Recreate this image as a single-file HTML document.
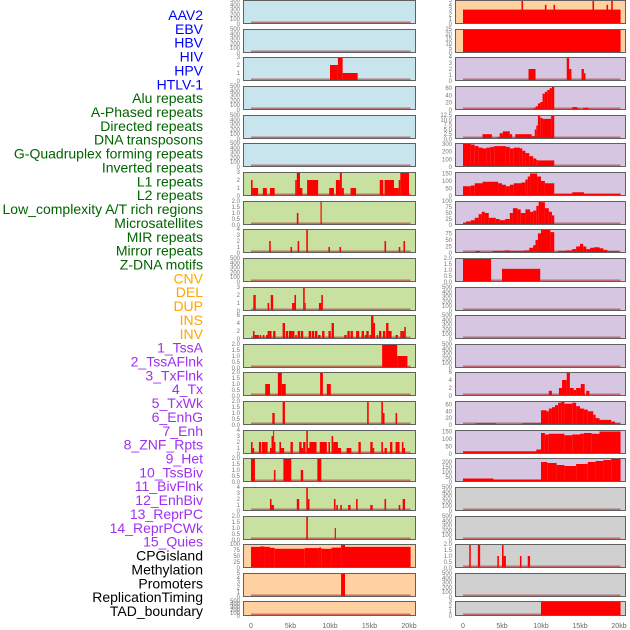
<!DOCTYPE html>
<html><head><meta charset="utf-8">
<style>
html,body{margin:0;padding:0;background:#fff;width:630px;height:630px;overflow:hidden}
svg{display:block}
</style></head>
<body>
<svg id="chart" width="630" height="630" xmlns="http://www.w3.org/2000/svg"></svg>
<script>
const trackLabels=["AAV2","EBV","HBV","HIV","HPV","HTLV-1","Alu repeats","A-Phased repeats","Directed repeats","DNA transposons","G-Quadruplex forming repeats","Inverted repeats","L1 repeats","L2 repeats","Low_complexity A/T rich regions","Microsatellites","MIR repeats","Mirror repeats","Z-DNA motifs","CNV","DEL","DUP","INS","INV","1_TssA","2_TssAFlnk","3_TxFlnk","4_Tx","5_TxWk","6_EnhG","7_Enh","8_ZNF_Rpts","9_Het","10_TssBiv","11_BivFlnk","12_EnhBiv","13_ReprPC","14_ReprPCWk","15_Quies","CPGisland","Methylation","Promoters","ReplicationTiming","TAD_boundary"];
const labelColors=[6,"#0000ff",13,"#006400",5,"#ffa500",15,"#a030f0",5,"#000000"];
const xTickValues=[0,5,10,15,20];
const xTickLabels=["0","5kb","10kb","15kb","20kb"];
const E=[];
// left column: [ymax, ticks, bg, segments [startKb,endKb,value]]
const leftBg=["#c8e4ec","#c8e4ec","#c8e4ec","#c8e4ec","#c8e4ec","#c8e4ec","#c8e0a0","#c8e0a0","#c8e0a0","#c8e0a0","#c8e0a0","#c8e0a0","#c8e0a0","#c8e0a0","#c8e0a0","#c8e0a0","#c8e0a0","#c8e0a0","#c8e0a0","#ffd0a0","#ffd0a0","#ffd0a0"];
const rightBg=["#ffd0a0","#ffd0a0","#d6c6e2","#d6c6e2","#d6c6e2","#d6c6e2","#d6c6e2","#d6c6e2","#d6c6e2","#d6c6e2","#d6c6e2","#d6c6e2","#d6c6e2","#d6c6e2","#d6c6e2","#d6c6e2","#d6c6e2","#d0d0d0","#d0d0d0","#d0d0d0","#d0d0d0","#d0d0d0"];
const T500=["0","100","200","300","400","500"], T2=["0.0","0.5","1.0","1.5","2.0"];
const leftMax=[500,500,3,500,500,500,3,2,4,500,3,6,2,2,2,4,2,4,2,100,5,500];
const leftTicks=[T500,T500,["0","1","2","3"],T500,T500,T500,["0","1","2","3"],T2,["0","1","2","3","4"],T500,["0","1","2","3"],["0","2","4","6"],T2,T2,T2,["0","1","2","3","4"],T2,["0","1","2","3","4"],T2,["0","25","50","75","100"],["0","1","2","3","4","5"],T500];
const leftData=[E,E,
[[10,11,2],[11,11.6,3],[11.6,13.5,1]],E,E,E,
[[0,0.2,2],[0.2,0.9,1],[1.5,2,1],[2.4,3,1],[5.6,5.8,2],[5.8,6.2,3],[6.2,6.5,1],[7.1,8.5,2],[9.9,10.5,1],[10.75,11.25,2],[11.25,11.5,3],[11.5,11.75,1],[12.6,13.3,1],[16.3,16.75,2],[16.9,18.1,2],[18.1,18.7,1],[18.7,18.9,2],[18.9,20,3]],
[[5.8,6,1],[8.8,8.95,2]],
[[2.3,2.5,2],[5,5.2,1],[5.9,6.1,2],[7,7.2,4],[9.8,10,1],[11.2,11.4,1],[16.9,17.1,2],[18.7,18.9,1],[19.3,19.5,2]],
E,
[[0.3,0.6,2],[2.1,2.3,1],[2.5,2.8,2],[5.2,5.5,1],[5.5,5.7,2],[6.6,6.8,3],[6.8,6.9,1],[8.6,8.9,1],[8.9,9.1,2]],
[[0.25,0.45,2],[0.45,1,1],[1.1,1.3,1],[1.5,1.7,1],[1.9,2.1,1],[2.1,2.6,2],[2.8,3.1,2],[4,4.3,4],[4.4,4.7,2],[4.8,5.2,2],[5.2,5.5,2],[5.6,5.8,1],[5.9,6.2,2],[6.3,6.6,2],[7.3,7.6,2],[7.7,8,2],[8.1,8.4,2],[8.5,8.8,1],[9,9.3,2],[9.8,10.1,2],[10.2,10.5,4],[11.8,12.1,1],[12.2,12.5,2],[12.6,12.9,2],[13.3,13.7,2],[14,14.3,2],[14.4,14.6,1],[14.6,14.9,2],[15,15.2,1],[15.2,15.5,6],[15.5,15.7,4],[15.9,16.1,1],[16.2,16.5,2],[16.7,17,2],[17.1,17.4,4],[17.4,17.8,2],[18.3,18.6,1],[18.9,19.2,2],[19.2,19.4,2],[19.4,19.6,3]],
[[16.6,18.5,2],[18.5,19.5,1],[19.5,19.8,1]],
[[1.8,2.4,1],[3.4,3.9,2],[3.9,4.4,1],[8.75,9.1,2],[9.6,10.1,1]],
[[2.7,3,1],[4,4.3,2],[14.7,14.9,2],[16.5,16.7,2],[16.7,16.9,1],[18.3,18.5,1]],
[[0,0.2,2],[0.2,0.4,1],[1,1.3,2],[1.4,1.8,2],[1.8,2.1,2],[2.4,2.6,1],[2.6,2.8,3],[2.8,2.9,4],[2.9,3.1,2],[3.6,3.8,2],[3.8,4.2,1],[5,5.3,2],[6.1,6.4,2],[6.4,6.6,1],[6.6,6.9,2],[7,7.2,4],[7.2,7.4,1],[7.4,8.3,2],[8.7,9.6,2],[9.8,10,2],[10.2,10.4,3],[10.4,11,2],[11,11.4,1],[12.1,12.7,1],[13.6,13.9,2],[15.1,15.4,2],[15.4,15.6,1],[16.5,16.7,2],[16.9,17.2,1],[17.6,17.9,2],[18.3,18.6,2],[18.6,18.8,2],[19.1,19.3,2],[19.3,19.5,1]],
[[0,0.5,2],[2.9,3.1,1],[4.1,5.1,2],[6.3,6.6,1],[8.4,8.9,2]],
[[2.4,2.6,2],[2.6,2.9,1],[5.8,6.1,2],[7,7.2,4],[7.2,7.4,2],[10.5,10.7,2],[10.8,11,1],[11.3,11.5,1],[12.3,12.6,1],[13.3,13.5,2],[15.1,15.4,1],[16.9,17.1,2],[18.7,18.9,1],[19.2,19.5,2]],
[[7,7.2,2],[10.6,10.75,1]],
[[0,1.2,88],[1.2,1.7,90],[1.7,2.4,88],[2.4,3,84],[3,6.8,80],[6.8,8.6,83],[8.6,8.9,85],[8.9,10.2,80],[10.2,11.4,85],[11.4,11.9,100],[11.9,20.2,88]],
[[11.4,11.9,5]],E];
const rightMax=[5,25,4,66,12.5,310,160,100,92,2,500,500,500,6,70,160,240,500,500,2,500,3];
const rightTicks=[["0","1","2","3","4","5"],["0","5","10","15","20","25"],["0","1","2","3","4"],["0","20","40","60"],["0.0","2.5","5.0","7.5","10.0","12.5"],["0","100","200","300"],["0","50","100","150"],["0","25","50","75","100"],["0","25","50","75"],T2,T500,T500,T500,["0","2","4","6"],["0","20","40","60"],["0","50","100","150"],["0","50","100","150","200"],T500,T500,T2,T500,["0","1","2","3"]];
const rightData=[
[[0,20.2,3],[7.5,7.7,5],[10.5,10.7,4],[11.6,11.8,4],[16.6,16.8,5],[18.4,18.6,4],[19,19.2,5]],
[[0,20.2,25]],
[[8.4,9.3,2],[13.3,13.6,4],[13.6,13.9,2],[15.2,15.5,2],[15.5,15.7,1.3]],
[[9,9.3,5],[9.3,9.6,10],[9.6,9.9,18],[9.9,10.2,22],[10.2,10.5,45],[10.5,10.8,50],[10.8,11.1,55],[11.1,11.4,60],[11.4,11.7,65],[14,14.6,8],[14.6,14.8,6],[15.4,16.1,6]],
[[2.5,3.7,2.5],[4.4,4.7,1],[4.7,5.1,3],[5.1,6,4],[6,6.3,2.5],[6.7,8.8,2.5],[8.8,9.2,1.5],[9.2,9.4,5],[9.4,9.6,7],[9.6,9.9,12],[9.9,10.2,11],[10.2,11.3,10.5],[11.3,11.7,12.5]],
[[0,1,310],[1,1.5,290],[1.5,2,270],[2,2.5,250],[2.5,3,240],[3,3.5,250],[3.5,4,260],[4,5.5,270],[5.5,6,260],[6,6.5,240],[6.5,7.3,250],[7.3,7.6,240],[7.6,8,210],[8,8.5,180],[8.5,9,140],[9,9.4,110],[9.4,9.6,90],[9.6,11.7,85],[11.7,20.2,10]],
[[0,1,65],[1,1.5,70],[1.5,2.5,85],[2.5,4.5,95],[4.5,5,85],[5,5.5,75],[5.5,6,65],[6,6.5,75],[6.5,7.5,85],[7.5,8,90],[8,8.3,110],[8.3,8.6,130],[8.6,9.5,150],[9.5,10,130],[10,10.5,100],[10.5,11.7,85],[11.7,14,15],[14,15.5,25],[15.5,20.2,15]],
[[0,0.4,10],[0.4,1,15],[1,1.5,20],[1.5,2,30],[2,2.4,45],[2.4,2.8,55],[2.8,3.3,50],[3.3,4.2,30],[4.2,4.7,25],[4.7,5.4,20],[5.4,6,25],[6,6.4,50],[6.4,7,70],[7,7.4,65],[7.4,8,50],[8,8.6,65],[8.6,9,55],[9,9.4,60],[9.4,9.7,80],[9.7,10,100],[10,10.5,95],[10.5,11,70],[11,11.4,55],[11.4,11.7,40],[11.7,20,3]],
[[1.6,2.2,8],[3.8,5.3,8],[5.3,6,10],[6,7.8,8],[7.8,8.5,10],[8.5,9,20],[9,9.3,30],[9.3,9.6,50],[9.6,10,75],[10,11.2,90],[11.2,11.7,80],[12.2,13.2,8],[13.2,14,10],[14,14.5,15],[14.5,15,25],[15,15.4,35],[15.4,15.8,25],[15.8,16.3,15],[16.3,16.8,20],[16.8,17.5,22],[17.5,18,18],[18,18.5,12],[18.5,20,7]],
[[0,3.6,2],[5,9.9,1.1]],
E,E,E,
[[11,11.4,1.3],[12.3,12.7,2],[12.7,13.3,4],[13.3,13.7,6],[13.7,14.2,2],[14.2,14.5,1.5],[14.5,15.1,2],[15.1,15.6,3],[15.8,16.2,1.3]],
[[1.6,4.2,5],[7.6,10,5],[10,10.7,43],[10.7,11,40],[11,11.4,48],[11.4,11.8,52],[11.8,12.2,58],[12.2,12.6,65],[12.6,13,68],[13,14,62],[14,14.5,65],[14.5,15,55],[15,15.5,48],[15.5,16,45],[16,16.7,40],[16.7,17,30],[17,17.5,20],[17.5,19,15],[19,19.5,10],[19.5,20.2,5]],
[[0,9.4,18],[9.4,10,30],[10,10.5,140],[10.5,11,130],[11,13,135],[13,14,125],[14,15,130],[15,15.5,135],[15.5,16.5,140],[16.5,17.5,135],[17.5,20.2,150]],
[[0,3.9,35],[3.9,5,25],[5,10,25],[10,10.8,200],[10.8,12,190],[12,13,170],[13,14.5,160],[14.5,16,180],[16,17,200],[17,18,210],[18,19,220],[19,20.2,240]],
E,E,
[[0.8,1,2],[1.9,2.2,2],[4.4,4.6,1],[5,5.2,2],[5.2,5.5,1],[7.3,7.5,1],[8.3,8.6,1]],
E,
[[10,20.2,3]]];

const NS="http://www.w3.org/2000/svg";
const svg=document.getElementById('chart');
function mk(tag,attrs,parent){const e=document.createElementNS(NS,tag);for(const k in attrs)e.setAttribute(k,attrs[k]);(parent||svg).appendChild(e);return e;}

// labels
let ci=0,left=labelColors[0];
trackLabels.forEach((t,i)=>{
  let c="#000",acc=0;
  for(let k=0;k<labelColors.length;k+=2){acc+=labelColors[k];if(i<acc){c=labelColors[k+1];break;}}
  const el=mk('text',{x:203,y:15+i*13.86+5,'text-anchor':'end','font-size':14,'font-family':'Liberation Sans, sans-serif',fill:c});
  
  
  el.textContent=t;
});

function rowTop(i){return i===21?601:Math.round(i*28.65);}
function rowH(i){return i===21?15:24;}

function panel(col,i,ymax,ticks,bg,data){
  const x0=col===0?243:455, x1=col===0?416:626;
  const z=col===0?251:463, kbpx=col===0?7.9:7.8;
  const xs=kb=>z+kb*kbpx;
  const top=rowTop(i), h=rowH(i), bot=top+h;
  const ys=v=>bot-(v/ymax)*h;
  const g=mk('g',{});
  
  
  const r=mk('rect',{x:x0+0.5,y:top+0.5,width:x1-x0-1,height:h-1,fill:bg},g);
  
  
  const bl=mk('line',{x1:xs(0),x2:xs(20.2),y1:bot-1.5,y2:bot-1.5,stroke:'#b03030','stroke-width':2,'stroke-opacity':0.6},g);
  
  
  data.forEach(s=>{
    const y=Math.max(ys(s[2]),top);
    const b=mk('rect',{x:xs(s[0]),y:y,width:Math.max(xs(s[1])-xs(s[0]),1),height:bot-y,fill:'#ff0000'},g);
    
    
  });
  const fr=mk('rect',{x:x0+0.5,y:top+0.5,width:x1-x0-1,height:h-1,fill:'none',stroke:'#606060','stroke-width':1},g);
  
  
  const n=ticks.length;
  ticks.forEach((t,k)=>{
    const v=parseFloat(t)/1;
    const tmax=parseFloat(ticks[n-1]);
    const yy=ys(v*ymax/ymax)+2;
    const tl=mk('text',{x:x0-3,y:Math.min(yy,bot+2),'text-anchor':'end','font-size':6,'font-family':'Liberation Sans, sans-serif',fill:'#777'},g);
    
    
    tl.textContent=t;
  });
}
for(let i=0;i<22;i++){
  panel(0,i,leftMax[i],leftTicks[i],leftBg[i],leftData[i]);
  panel(1,i,rightMax[i],rightTicks[i],rightBg[i],rightData[i]);
}
[0,1].forEach(col=>{
  const z=col===0?251:463, kbpx=col===0?7.9:7.8;
  xTickValues.forEach((v,k)=>{
    const t=mk('text',{x:z+v*kbpx,y:628,'text-anchor':'middle','font-size':7,'font-family':'Liberation Sans, sans-serif',fill:'#666'});
    
    
    t.textContent=xTickLabels[k];
  });
});
</script>
</body></html>
